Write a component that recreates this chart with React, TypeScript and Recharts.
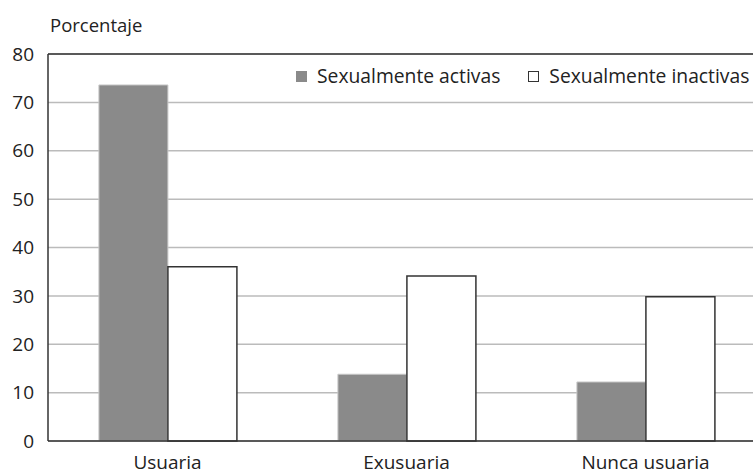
import React from "react";
import { BarChart, Bar, XAxis, YAxis, CartesianGrid, ReferenceLine } from "recharts";

const categories = ["Usuaria", "Exusuaria", "Nunca usuaria"];
const activas = [73.6, 13.8, 12.2];
const inactivas = [36.0, 34.1, 29.8];
const yTicks = [0, 10, 20, 30, 40, 50, 60, 70, 80];
const seriesNames = ["Sexualmente activas", "Sexualmente inactivas"];

const data = categories.map((c, i) => ({ name: c, activas: activas[i], inactivas: inactivas[i] }));

const FONT = "'Open Sans', 'Noto Sans', sans-serif";

const LegendBox = () => (
  <div
    style={{
      position: "absolute",
      left: 296,
      top: 64,
      display: "flex",
      alignItems: "center",
      fontFamily: FONT,
      fontSize: 19.3,
      color: "#222",
      whiteSpace: "nowrap",
      background: "#fff",
      lineHeight: "24px",
    }}
  >
    <span style={{ display: "inline-block", width: 11, height: 11, background: "#8a8a8a", marginRight: 10 }} />
    <span style={{ marginRight: 28 }}>{seriesNames[0]}</span>
    <span style={{ display: "inline-block", width: 9, height: 9, background: "#fff", border: "1px solid #333", marginRight: 10 }} />
    <span>{seriesNames[1]}</span>
  </div>
);

export default function App() {
  return (
    <div style={{ position: "absolute", left: 0, top: 0, width: 753, height: 475, background: "#fff", overflow: "hidden" }}>
      <div style={{ position: "absolute", left: 50, top: 12, fontFamily: FONT, fontSize: 18.5, color: "#222" }}>Porcentaje</div>
      <BarChart
        width={765}
        height={475}
        data={data}
        margin={{ top: 54, right: 0, bottom: 0, left: 0 }}
        barCategoryGap="21.3%"
        barGap={0}
      >
        <CartesianGrid vertical={false} stroke="#bbb" strokeWidth={1.5} />
        <XAxis
          dataKey="name"
          height={34}
          tickLine={false}
          axisLine={{ stroke: "#333", strokeWidth: 1.5 }}
          tick={{ fontFamily: FONT, fontSize: 19, fill: "#222", dy: 7 }}
        />
        <YAxis
          width={48}
          domain={[0, 80]}
          ticks={yTicks}
          tickLine={false}
          axisLine={{ stroke: "#333", strokeWidth: 1.5 }}
          tick={{ fontFamily: FONT, fontSize: 19, fill: "#222", dx: -6 }}
        />
        <ReferenceLine y={80} stroke="#333" strokeWidth={1.5} />
        <Bar dataKey="activas" fill="#8a8a8a" stroke="#c8c8c8" strokeWidth={1} isAnimationActive={false} />
        <Bar dataKey="inactivas" fill="#fff" stroke="#333" strokeWidth={1.5} isAnimationActive={false} />
      </BarChart>
      <LegendBox />
    </div>
  );
}
